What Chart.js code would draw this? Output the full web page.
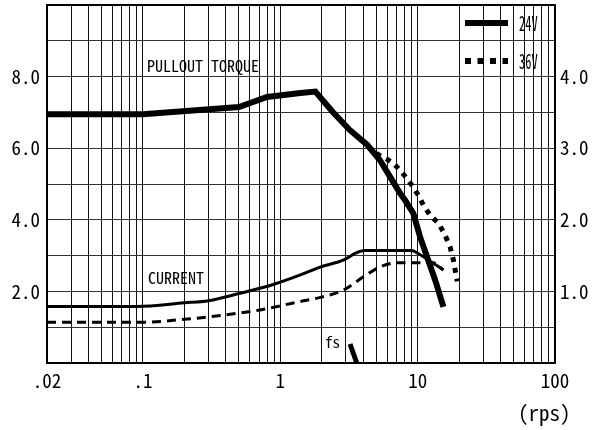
<!DOCTYPE html>
<html><head><meta charset="utf-8">
<script src="https://cdn.jsdelivr.net/npm/chart.js@4.4.1/dist/chart.umd.min.js"></script>
<style>html,body{margin:0;padding:0;background:#fff;}</style>
</head><body>
<canvas id="c" width="603" height="430"></canvas>
<script>
const FONT = "'Noto Sans Mono CJK JP','Liberation Mono',monospace";

// X grid / tick values (rps) and their labels
const xGridValues = [0.02,0.03,0.04,0.05,0.06,0.07,0.08,0.09,
  0.1,0.2,0.3,0.4,0.5,0.6,0.7,0.8,0.9,
  1,2,3,4,5,6,7,8,9,
  10,20,30,40,50,60,70,80,90,100];
const xLabelMap = {0.02:'.02', 0.1:'.1', 1:'1', 10:'10', 100:'100'};

// Pullout torque (left axis)
const torque24X = [0.02,0.1,0.5,0.8,1.4,1.8,2.4,3.2,4.3,5.3,6.3,7.45,8.1,9.3,10.4,11.7,13.4,15.4];
const torque24Y = [6.95,6.95,7.15,7.43,7.54,7.58,7.02,6.51,6.09,5.67,5.2,4.74,4.55,4.18,3.53,2.97,2.32,1.57];
const torque36X = [5.0,5.96,6.85,7.97,9.06,10.1,11.0,12.3,14.2,15.8,17.2,18.2,19.4];
const torque36Y = [5.85,5.70,5.53,5.25,4.97,4.69,4.41,4.13,3.9,3.58,3.25,2.88,2.28];

// Current (right axis)
const current24X = [0.02,0.09,0.2,0.3,0.5,0.9,1.4,1.95,2.9,3.5,4.1,9.0,10.1,11.9,15.4];
const current24Y = [0.79,0.79,0.84,0.87,0.97,1.10,1.23,1.34,1.44,1.53,1.57,1.57,1.53,1.44,1.30];
const current36X = [0.02,0.1,0.2,0.39,0.71,1.4,2.0,2.9,4.0,5.3,7.0,13.0,15.4];
const current36Y = [0.57,0.57,0.61,0.67,0.74,0.86,0.92,1.02,1.20,1.34,1.40,1.40,1.30];

// fs marker (left axis)
const fsX = [3.22,3.6];
const fsY = [0.53,0];

const toPts = (xs, ys) => xs.map((x,i)=>({x:x, y:ys[i]}));

const annot = {
  id:'annot',
  afterDraw(chart){
    const ctx = chart.ctx, a = chart.chartArea;
    ctx.save();
    // frame
    ctx.strokeStyle = '#000'; ctx.lineWidth = 2;
    ctx.strokeRect(a.left, a.top, a.right-a.left, a.bottom-a.top);
    ctx.fillStyle = '#000';
    ctx.textBaseline = 'alphabetic';
    ctx.textAlign = 'left';
    ctx.font = "16px " + FONT;
    ctx.fillText('PULLOUT TORQUE', 147, 72);
    ctx.fillText('CURRENT', 148, 284);
    ctx.font = "15px " + FONT;
    ctx.fillText('fs', 325, 348);
    ctx.font = "21px " + FONT;
    ctx.textBaseline = 'middle';
    ctx.fillText('(rps)', 518, 413);
    // legend
    ctx.lineCap = 'butt';
    ctx.lineWidth = 6;
    ctx.beginPath(); ctx.moveTo(465,23); ctx.lineTo(508,23); ctx.stroke();
    ctx.setLineDash([6,6.5]);
    ctx.beginPath(); ctx.moveTo(465,61); ctx.lineTo(508,61); ctx.stroke();
    ctx.setLineDash([]);
    ctx.font = "20px " + FONT;
    [['24V',23],['36V',61]].forEach(([t,y])=>{
      ctx.save(); ctx.translate(519,y); ctx.scale(0.62,1);
      ctx.fillText(t,0,0); ctx.restore();
    });
    ctx.restore();
  }
};

new Chart(document.getElementById('c'), {
  type:'line',
  data:{
    datasets:[
      {label:'24V', data:toPts(torque24X,torque24Y), yAxisID:'y', borderColor:'#000', borderWidth:6, pointRadius:0, tension:0, fill:false},
      {label:'36V', data:toPts(torque36X,torque36Y), yAxisID:'y', borderColor:'#000', borderWidth:5, borderDash:[5,6], pointRadius:0, tension:0, fill:false},
      {label:'I24', data:toPts(current24X,current24Y), yAxisID:'y2', borderColor:'#000', borderWidth:3, pointRadius:0, cubicInterpolationMode:'monotone', fill:false},
      {label:'I36', data:toPts(current36X,current36Y), yAxisID:'y2', borderColor:'#000', borderWidth:3, borderDash:[9,6], pointRadius:0, cubicInterpolationMode:'monotone', fill:false},
      {label:'fs', data:toPts(fsX,fsY), yAxisID:'y', borderColor:'#000', borderWidth:5, pointRadius:0, tension:0, fill:false}
    ]
  },
  options:{
    responsive:false, animation:false,
    layout:{padding:{top:5,left:0,right:0,bottom:0}},
    plugins:{legend:{display:false}, tooltip:{enabled:false}},
    scales:{
      x:{type:'logarithmic', min:0.02, max:100, position:'bottom',
        afterBuildTicks(s){ s.ticks = xGridValues.map(v=>({value:v})); },
        afterFit(s){ s.height = 67; s.paddingLeft = 0; s.paddingRight = 0; },
        border:{display:false},
        grid:{color:'#111', lineWidth:1, drawTicks:false},
        ticks:{autoSkip:false, maxRotation:0, padding:6, color:'#000', font:{family:FONT, size:19},
          callback:(v,i)=> xLabelMap[xGridValues[i]] || ''}
      },
      y:{type:'linear', min:0, max:10, position:'left',
        afterFit(s){ s.width = 47; s.paddingTop = 0; s.paddingBottom = 0; },
        border:{display:false},
        grid:{color:'#333', lineWidth:1, drawTicks:false},
        ticks:{stepSize:1, autoSkip:false, padding:7, color:'#000', font:{family:FONT, size:19},
          callback:(v)=> (v>0 && v<10 && v%2===0) ? v.toFixed(1) : ''}
      },
      y2:{type:'linear', min:0, max:5, position:'right',
        afterFit(s){ s.width = 48; s.paddingTop = 0; s.paddingBottom = 0; },
        border:{display:false},
        grid:{display:false, drawTicks:false},
        ticks:{stepSize:0.5, autoSkip:false, padding:5, color:'#000', font:{family:FONT, size:19},
          callback:(v)=> (v>0 && v<5 && Number.isInteger(v)) ? v.toFixed(1) : ''}
      }
    }
  },
  plugins:[annot]
});
</script>
</body></html>
